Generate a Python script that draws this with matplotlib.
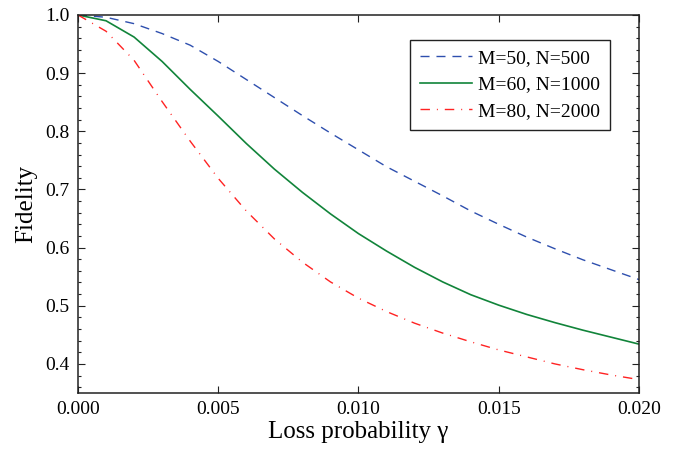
import numpy as np
import matplotlib
matplotlib.use("Agg")
import matplotlib.pyplot as plt
from matplotlib.ticker import MultipleLocator, FormatStrFormatter

plt.rcParams['font.family'] = ['Liberation Serif', 'DejaVu Serif']
plt.rcParams['mathtext.fontset'] = 'stix'

# loss probability gamma, sampled every 0.001
gamma = [0.000, 0.001, 0.002, 0.003, 0.004, 0.005, 0.006, 0.007, 0.008, 0.009, 0.010,
         0.011, 0.012, 0.013, 0.014, 0.015, 0.016, 0.017, 0.018, 0.019, 0.020]

fid_m50 = [1.000, 0.996, 0.985, 0.968, 0.948, 0.920, 0.889, 0.858, 0.827, 0.797, 0.768,
           0.739, 0.714, 0.689, 0.663, 0.640, 0.618, 0.598, 0.579, 0.562, 0.545]
fid_m60 = [1.000, 0.990, 0.962, 0.920, 0.872, 0.826, 0.779, 0.735, 0.695, 0.658, 0.624,
           0.594, 0.566, 0.541, 0.519, 0.501, 0.485, 0.471, 0.458, 0.446, 0.434]
fid_m80 = [1.000, 0.972, 0.922, 0.851, 0.783, 0.719, 0.663, 0.615, 0.575, 0.541, 0.513,
           0.490, 0.470, 0.453, 0.438, 0.424, 0.412, 0.400, 0.390, 0.381, 0.373]

labels = ["M=50, N=500", "M=60, N=1000", "M=80, N=2000"]

fig = plt.figure(figsize=(6.78, 4.53), dpi=100)
ax = fig.add_axes([0.115, 0.1325, 0.8275, 0.8345])

ax.plot(gamma, fid_m50, color='#2e4fae', lw=1.0, dashes=(6.5, 5), label=labels[0])
ax.plot(gamma, fid_m60, color='#11843a', lw=1.2, label=labels[1])
ax.plot(gamma, fid_m80, color='#ff2222', lw=1.0, dashes=(6.8, 5, 0.7, 5), label=labels[2])

ax.set_xlim(0, 0.02)
ax.set_ylim(0.35, 1.0)
ax.xaxis.set_major_locator(MultipleLocator(0.005))
ax.xaxis.set_major_formatter(FormatStrFormatter('%.3f'))
ax.yaxis.set_major_locator(MultipleLocator(0.1))
ax.yaxis.set_minor_locator(MultipleLocator(0.02))
ax.yaxis.set_major_formatter(FormatStrFormatter('%.1f'))

ax.tick_params(which='both', direction='in', top=True, right=True, labelsize=14,
               color='#222222', width=0.8)
ax.tick_params(which='major', length=5, pad=6)
ax.tick_params(which='minor', length=2.5)
for s in ax.spines.values():
    s.set_linewidth(1.1)
    s.set_color('#222222')

ax.set_xlabel("Loss probability γ", fontsize=18, labelpad=2)
ax.set_ylabel("Fidelity", fontsize=18, labelpad=6)

leg = ax.legend(loc='upper right', bbox_to_anchor=(0.948, 0.934), borderaxespad=0,
                fontsize=14, fancybox=False, framealpha=1, edgecolor='#222222',
                handlelength=2.7, handletextpad=0.3, labelspacing=0.45, borderpad=0.5)
leg.get_frame().set_linewidth(1.0)

fig.savefig("out.png", dpi=100)
